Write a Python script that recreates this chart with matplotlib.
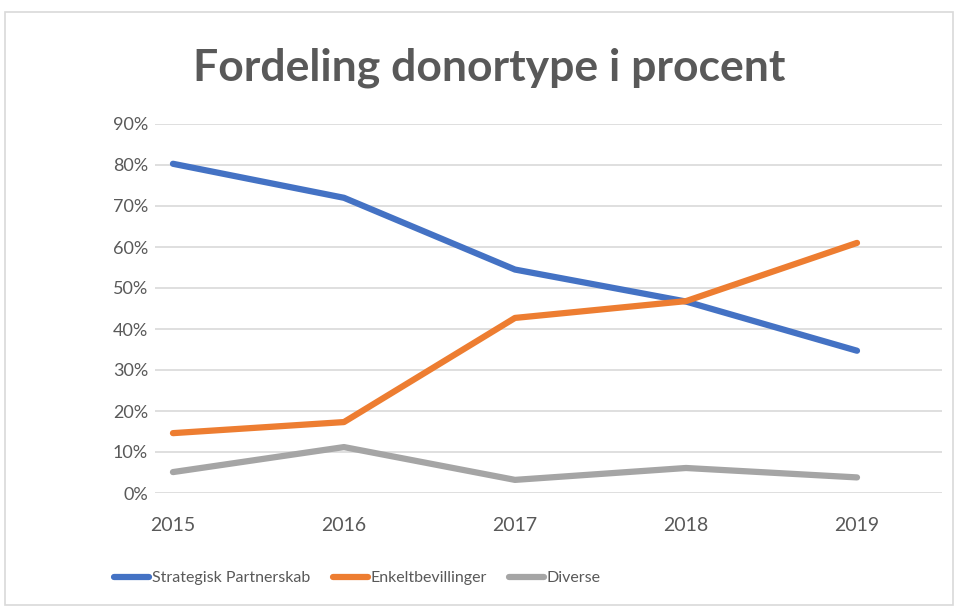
import matplotlib.pyplot as plt
from matplotlib.patches import Rectangle
from matplotlib.ticker import PercentFormatter

# Data
years = ["2015", "2016", "2017", "2018", "2019"]
strategisk = [0.803, 0.720, 0.545, 0.467, 0.347]
enkelt = [0.146, 0.173, 0.427, 0.468, 0.610]
diverse = [0.051, 0.112, 0.032, 0.061, 0.038]

text_color = "#595959"
plt.rcParams['font.family'] = ['Lato', 'DejaVu Sans']

fig = plt.figure(figsize=(9.58, 6.10), dpi=100)
fig.patches.append(Rectangle((5 / 958, 5 / 610), 948 / 958, 593 / 610, transform=fig.transFigure,
                             fill=False, edgecolor="#d9d9d9", linewidth=1.2))

ax = fig.add_axes([155 / 958, (610 - 493) / 610, (942 - 155) / 958, (493 - 124) / 610])

x = list(range(len(years)))
ax.plot(x, strategisk, color="#4472C4", linewidth=4.5, solid_capstyle="round", label="Strategisk Partnerskab")
ax.plot(x, enkelt, color="#ED7D31", linewidth=4.5, solid_capstyle="round", label="Enkeltbevillinger")
ax.plot(x, diverse, color="#A5A5A5", linewidth=4.5, solid_capstyle="round", label="Diverse")

ax.set_xlim(-0.105, 4.497)
ax.set_ylim(0, 0.9)
ax.set_xticks(x)
ax.set_xticklabels(years)
ax.set_yticks([i / 10 for i in range(10)])
ax.yaxis.set_major_formatter(PercentFormatter(1.0, decimals=0))
ax.grid(axis="y", color="#d9d9d9", linewidth=1.2)
ax.set_axisbelow(True)
for s in ax.spines.values():
    s.set_visible(False)
ax.tick_params(length=0, labelsize=13, labelcolor=text_color)
ax.tick_params(axis="x", pad=17, labelsize=14)
ax.tick_params(axis="y", pad=5)

fig.text(0.511, 1 - 68 / 610, "Fordeling donortype i procent", ha="center", va="center",
         fontsize=32, fontweight="bold", color=text_color)

fig.legend(loc="center", bbox_to_anchor=(0.373, 1 - 578 / 610), ncol=3, frameon=False,
           fontsize=11.5, handlelength=2.2, handletextpad=0.15, columnspacing=1.4,
           labelcolor=text_color)

fig.savefig("out.png", dpi=100)
